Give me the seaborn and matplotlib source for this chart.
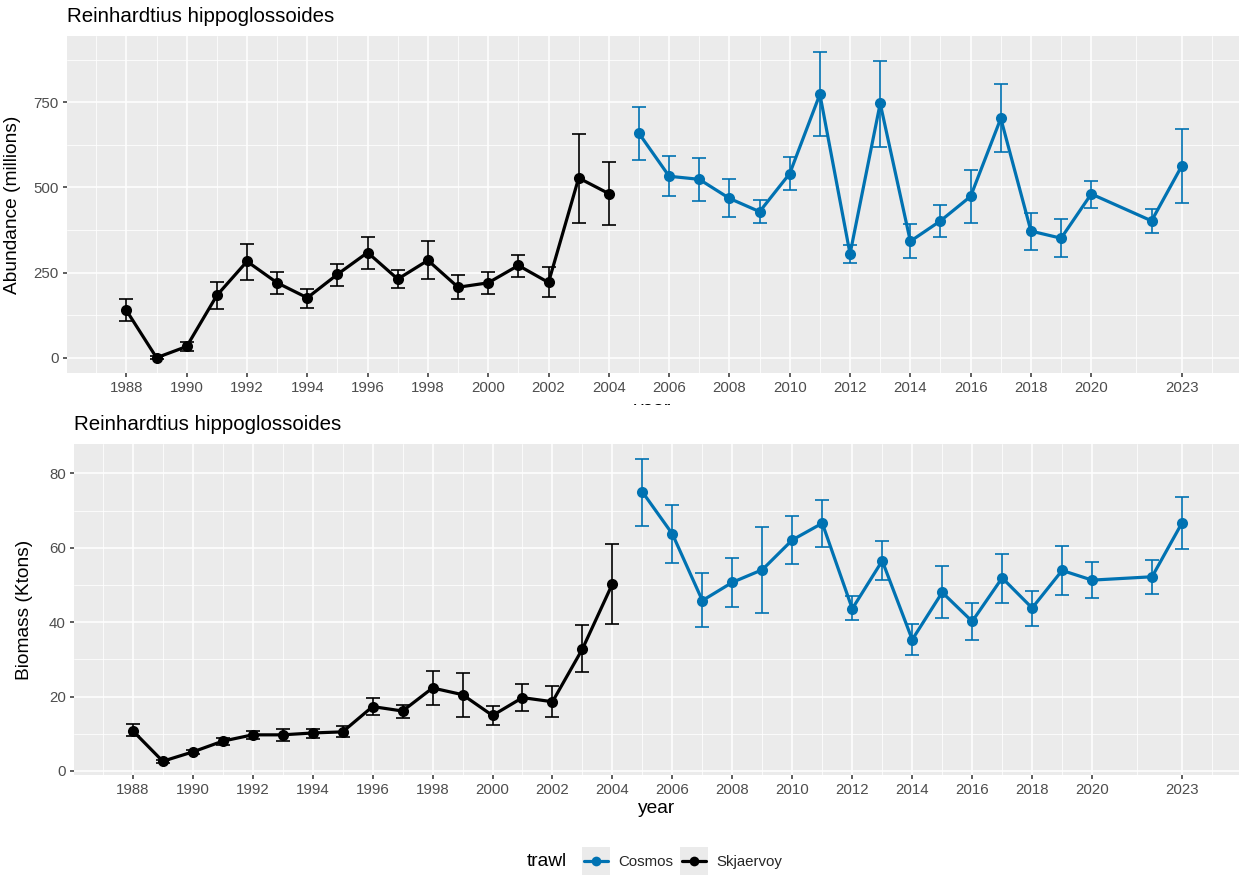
import numpy as np
import pandas as pd
import matplotlib
matplotlib.use("Agg")
import matplotlib.pyplot as plt
from matplotlib.lines import Line2D
from matplotlib.patches import Rectangle
from matplotlib.transforms import Bbox, TransformedBbox
import seaborn as sns

# ---------------- data ----------------
years_skj = list(range(1988, 2005))
years_cos = list(range(2005, 2021)) + [2022, 2023]

abund_skj = [139, 0, 33, 183, 283, 220, 176, 245, 309, 231, 286, 207, 220, 271, 221, 528, 482]
abund_skj_lo = [109, -4, 20, 144, 229, 186, 147, 212, 262, 205, 230, 173, 187, 237, 179, 397, 390]
abund_skj_hi = [172, 4, 45, 222, 335, 251, 203, 274, 355, 259, 342, 242, 253, 303, 266, 657, 575]

abund_cos = [659, 533, 524, 468, 429, 541, 774, 305, 747, 342, 402, 474, 703, 372, 351, 481, 402, 563]
abund_cos_lo = [582, 474, 460, 413, 395, 492, 651, 279, 620, 292, 356, 396, 605, 317, 296, 439, 367, 453]
abund_cos_hi = [735, 592, 586, 524, 464, 590, 898, 330, 873, 393, 449, 552, 803, 425, 407, 519, 438, 673]

biom_skj = [10.8, 2.6, 5.1, 8.0, 9.7, 9.7, 10.2, 10.5, 17.3, 16.1, 22.3, 20.5, 14.9, 19.7, 18.6, 32.8, 50.3]
biom_skj_lo = [9.3, 2.2, 4.6, 7.0, 8.6, 8.1, 8.8, 9.0, 14.9, 14.3, 17.7, 14.5, 12.4, 16.2, 14.5, 26.5, 39.5]
biom_skj_hi = [12.6, 2.9, 5.7, 8.8, 10.8, 11.4, 11.4, 12.0, 19.5, 17.7, 26.8, 26.4, 17.4, 23.3, 22.7, 39.3, 60.9]

biom_cos = [75.0, 63.7, 45.8, 50.7, 54.1, 62.1, 66.6, 43.6, 56.5, 35.3, 48.0, 40.2, 51.9, 43.8, 53.9, 51.3, 52.2, 66.7]
biom_cos_lo = [65.9, 55.9, 38.6, 44.1, 42.5, 55.6, 60.1, 40.5, 51.3, 31.2, 41.1, 35.2, 45.2, 39.0, 47.3, 46.6, 47.7, 59.7]
biom_cos_hi = [84.0, 71.5, 53.1, 57.3, 65.7, 68.6, 72.9, 46.9, 61.7, 39.6, 55.0, 45.1, 58.4, 48.5, 60.5, 56.1, 56.8, 73.6]

x_ticks = [1988, 1990, 1992, 1994, 1996, 1998, 2000, 2002, 2004, 2006, 2008,
           2010, 2012, 2014, 2016, 2018, 2020, 2023]
abund_ticks = [0, 250, 500, 750]
biom_ticks = [0, 20, 40, 60, 80]

trawl_order = ["Cosmos", "Skjaervoy"]
palette = {"Cosmos": "#0072B2", "Skjaervoy": "#000000"}
title_txt = "Reinhardtius hippoglossoides"


def make_df(vs, vs_lo, vs_hi, vc, vc_lo, vc_hi):
    d1 = pd.DataFrame({"year": years_skj, "value": vs, "lo": vs_lo, "hi": vs_hi, "trawl": "Skjaervoy"})
    d2 = pd.DataFrame({"year": years_cos, "value": vc, "lo": vc_lo, "hi": vc_hi, "trawl": "Cosmos"})
    return pd.concat([d1, d2], ignore_index=True)


df_ab = make_df(abund_skj, abund_skj_lo, abund_skj_hi, abund_cos, abund_cos_lo, abund_cos_hi)
df_bm = make_df(biom_skj, biom_skj_lo, biom_skj_hi, biom_cos, biom_cos_lo, biom_cos_hi)

# ---------------- style ----------------
sns.set_theme(style="darkgrid")
plt.rcParams["font.family"] = ["Liberation Sans", "DejaVu Sans"]
plt.rcParams["axes.facecolor"] = "#EBEBEB"
plt.rcParams["figure.facecolor"] = "white"

W, H = 1239, 877
fig = plt.figure(figsize=(W / 100, H / 100), dpi=100)


def px_axes(l, t, r, b):
    return fig.add_axes([l / W, 1 - b / H, (r - l) / W, (b - t) / H])


ax1 = px_axes(67.3, 36, 1239, 372.7)
ax2 = px_axes(74, 444, 1239, 775)

TICK_FS = 10.8
AXT_FS = 13.8
TITLE_FS = 14.8


def style_axis(ax, df, yticks, yminor, ylim, ylabel, ylab_x):
    for tr in trawl_order:
        sub = df[df.trawl == tr]
        ax.errorbar(sub["year"], sub["value"],
                    yerr=[sub["value"] - sub["lo"], sub["hi"] - sub["value"]],
                    fmt="none", ecolor=palette[tr], elinewidth=1.2, capsize=5,
                    capthick=1.2, zorder=3)
    sns.lineplot(data=df, x="year", y="value", hue="trawl", hue_order=trawl_order,
                 palette=palette, marker="o", markersize=8, markeredgewidth=0,
                 linewidth=2.3, errorbar=None, legend=False, ax=ax, zorder=4)
    ax.set_xlim(1986.04, 2024.9)
    ax.set_ylim(*ylim)
    ax.set_xticks(x_ticks)
    ax.set_xticklabels([str(v) for v in x_ticks])
    ax.set_yticks(yticks)
    ax.set_yticklabels([str(v) for v in yticks])
    xminor = list(range(1987, 2020, 2)) + [2021.5, 2024]
    ax.set_xticks(xminor, minor=True)
    ax.set_yticks(yminor, minor=True)
    ax.grid(True, which="major", color="white", linewidth=1.1)
    ax.grid(True, which="minor", color="white", linewidth=0.55)
    ax.set_axisbelow(True)
    ax.tick_params(axis="both", which="major", length=3, width=1.1, color="#333333",
                   labelcolor="#4D4D4D", labelsize=TICK_FS, pad=3, bottom=True, left=True)
    ax.tick_params(axis="both", which="minor", length=0)
    for s in ax.spines.values():
        s.set_visible(False)
    ax.set_ylabel(ylabel, fontsize=AXT_FS, color="black")
    ax.yaxis.set_label_coords(ylab_x, 0.5)
    ax.set_title(title_txt, loc="left", fontsize=TITLE_FS, pad=10, color="black")


style_axis(ax1, df_ab, abund_ticks, [125, 375, 625, 875], (-44, 945),
           "Abundance (millions)", (21 - 67.3) / (1239 - 67.3))
ax1.set_xlabel("")
style_axis(ax2, df_bm, biom_ticks, [10, 30, 50, 70], (-1.1, 87.9),
           "Biomass (Ktons)", (33 - 74) / (1239 - 74))
ax2.set_xlabel("year", fontsize=AXT_FS, color="black", labelpad=2)

# clipped x label of the upper panel (hidden behind lower panel, as in original)
t = fig.text(653 / W, 1 - 401.5 / H, "year", ha="center", va="top", fontsize=AXT_FS, color="black")
t.set_clip_on(True)
t.set_clip_box(TransformedBbox(Bbox([[0, 1 - 405 / H], [1, 1]]), fig.transFigure))

# ---------------- legend ----------------
handles = [Line2D([], [], color=palette[tr], marker="o", markersize=7, linewidth=2.3,
                  markeredgewidth=0) for tr in trawl_order]
leg = fig.legend(handles, trawl_order, loc="center", bbox_to_anchor=(683 / W, 1 - 862 / H),
                 ncol=2, frameon=False, fontsize=10.8, handlelength=1.6,
                 handletextpad=0.7, columnspacing=0.6, borderaxespad=0)
fig.text(567 / W, 1 - 862 / H, "trawl", ha="right", va="center", fontsize=AXT_FS, color="black")

fig.canvas.draw()
renderer = fig.canvas.get_renderer()
for h in leg.legend_handles:
    bb = h.get_window_extent(renderer)
    cx = (bb.x0 + bb.x1) / 2
    cy = (bb.y0 + bb.y1) / 2
    size = 28
    fig.patches.append(Rectangle(((cx - size / 2) / W, (cy - size / 2) / H), size / W, size / H,
                                 transform=fig.transFigure, facecolor="#EBEBEB",
                                 edgecolor="none", zorder=0))

fig.savefig("out.png", dpi=100)
